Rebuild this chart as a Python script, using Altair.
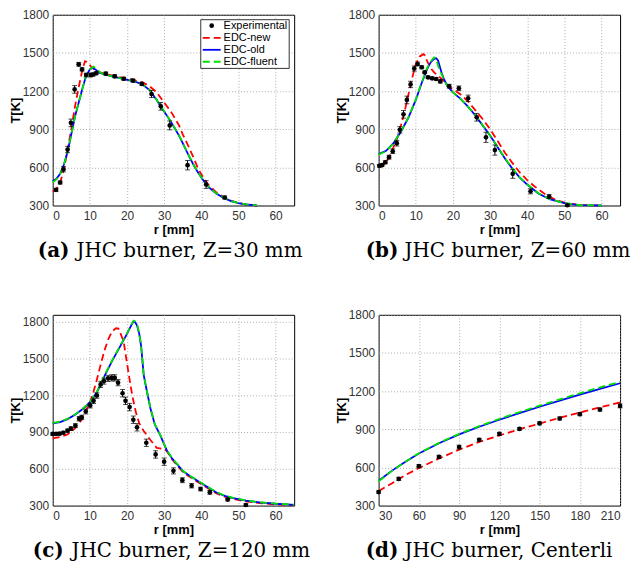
import altair as alt
import pandas as pd

# ---------------- Panel (a): Z=30 mm ----------------
a_exp_r = [0.9, 2.0, 2.9, 4.0, 4.9, 5.9, 7.0, 7.9, 9.0, 10.2, 10.9, 11.7, 14.3, 16.7, 19.1, 21.6, 24.0, 26.6, 29.1, 31.5, 36.3, 41.3, 46.3]
a_exp_T = [423, 481, 585, 740, 950, 1213, 1410, 1370, 1326, 1326, 1330, 1340, 1337, 1316, 1297, 1282, 1256, 1177, 1080, 930, 617, 465, 363]
a_exp_e = [12, 12, 20, 25, 30, 30, 15, 12, 15, 15, 12, 12, 12, 12, 12, 12, 12, 28, 30, 35, 37, 30, 12]
a_new_r = [0, 1, 2, 3, 4, 5, 6, 7, 8, 8.7, 9.5, 10.5, 12, 14, 17, 20, 22, 24, 26, 28, 29, 30, 31, 32, 33, 34, 35, 36, 37, 38, 39, 40, 41, 42, 44, 46, 48, 50, 52, 55]
a_new_T = [410, 430, 480, 580, 740, 900, 1080, 1230, 1370, 1435, 1425, 1385, 1355, 1335, 1315, 1298, 1285, 1270, 1240, 1190, 1150, 1110, 1070, 1030, 980, 930, 860, 800, 735, 670, 600, 545, 500, 460, 405, 365, 338, 320, 308, 300]
a_old_r = [0, 1, 2, 3, 4, 5, 6, 7, 8, 9, 10, 10.7, 11.5, 12.5, 14, 16, 19, 22, 24, 26, 28, 29, 30, 31, 32, 33, 34, 35, 36, 37, 38, 39, 40, 41, 42, 44, 46, 48, 50, 52, 55]
a_old_T = [490, 510, 550, 620, 720, 860, 1000, 1110, 1220, 1320, 1370, 1383, 1370, 1345, 1330, 1315, 1295, 1275, 1255, 1210, 1130, 1080, 1040, 995, 950, 900, 850, 790, 730, 670, 615, 565, 520, 480, 445, 395, 360, 335, 318, 308, 300]
a_flu_r = [0, 1, 2, 3, 4, 5, 6, 7, 8, 9, 10, 11, 11.8, 12.8, 14, 16, 19, 22, 24, 26, 28, 29, 30, 31, 32, 33, 34, 35, 36, 37, 38, 39, 40, 41, 42, 44, 46, 48, 50, 52, 55]
a_flu_T = [480, 505, 548, 620, 720, 858, 998, 1108, 1218, 1318, 1372, 1392, 1375, 1345, 1330, 1315, 1295, 1275, 1255, 1212, 1132, 1082, 1042, 997, 952, 902, 852, 792, 732, 672, 617, 567, 522, 482, 447, 397, 362, 336, 319, 309, 301]

# ---------------- Panel (b): Z=60 mm ----------------
b_exp_r = [0.2, 0.9, 1.8, 2.8, 3.8, 4.9, 5.7, 6.7, 7.6, 8.6, 9.6, 10.5, 11.6, 12.4, 13.3, 14.4, 15.5, 16.6, 19.0, 21.6, 24.1, 26.4, 28.9, 31.3, 36.1, 40.9, 45.9, 50.8]
b_exp_T = [612, 617, 640, 680, 727, 790, 895, 1017, 1130, 1252, 1377, 1413, 1387, 1347, 1308, 1300, 1295, 1276, 1238, 1222, 1143, 994, 836, 736, 549, 412, 371, 302]
b_exp_e = [10, 10, 12, 15, 18, 22, 25, 30, 30, 25, 20, 15, 12, 10, 10, 10, 10, 12, 15, 18, 25, 30, 40, 40, 35, 20, 15, 10]
b_new_r = [0, 1, 2, 3, 4, 5, 6, 7, 8, 9, 10, 11, 12, 12.5, 13, 14, 15, 16, 17, 18, 19, 20, 22, 24, 26, 28, 30, 32, 34, 36, 38, 40, 42, 45, 48, 51, 55, 60]
b_new_T = [605, 610, 640, 690, 760, 830, 930, 1040, 1170, 1300, 1410, 1470, 1490, 1480, 1440, 1380, 1345, 1320, 1295, 1265, 1235, 1215, 1175, 1120, 1050, 980, 900, 810, 715, 635, 560, 500, 450, 385, 340, 315, 303, 300]
b_old_r = [0, 2, 4, 6, 8, 10, 11.5, 13, 14, 14.8, 15.5, 16, 16.5, 17, 17.5, 18.5, 20, 22, 24, 26, 28, 30, 32, 34, 36, 38, 40, 43, 46, 50, 54, 60]
b_old_T = [705, 730, 790, 880, 990, 1130, 1255, 1370, 1425, 1450, 1458, 1440, 1390, 1340, 1300, 1240, 1190, 1140, 1080, 1010, 930, 850, 760, 670, 590, 520, 465, 395, 350, 318, 303, 300]
b_flu_r = [0, 2, 4, 6, 8, 10, 11.5, 13, 14, 14.9, 15.3, 15.8, 16.3, 17, 17.5, 18.5, 20, 22, 24, 26, 28, 30, 32, 34, 36, 38, 40, 43, 46, 50, 54, 60]
b_flu_T = [700, 727, 788, 880, 992, 1133, 1260, 1378, 1432, 1465, 1458, 1420, 1370, 1330, 1295, 1238, 1190, 1140, 1080, 1012, 932, 852, 762, 672, 592, 522, 467, 397, 352, 319, 304, 300]

# ---------------- Panel (c): Z=120 mm ----------------
c_exp_r = [0, 0.9, 1.8, 2.85, 4.0, 4.9, 6.1, 7.1, 7.8, 8.9, 10.1, 11.0, 11.9, 12.9, 13.8, 14.9, 15.9, 16.7, 17.6, 18.8, 19.6, 20.7, 21.7, 22.7, 25.2, 27.7, 30.0, 32.5, 34.9, 37.4, 39.8, 42.3, 47.1, 52.0]
c_exp_T = [884, 884, 886, 894, 911, 927, 952, 1008, 1019, 1067, 1116, 1154, 1197, 1288, 1315, 1337, 1341, 1341, 1302, 1216, 1154, 1103, 1000, 938, 812, 717, 658, 583, 507, 462, 435, 408, 349, 305]
c_exp_e = [10, 10, 10, 12, 12, 15, 15, 18, 18, 20, 20, 22, 22, 25, 25, 25, 25, 25, 25, 30, 30, 30, 30, 30, 30, 30, 30, 25, 20, 18, 15, 15, 10, 10]
c_new_r = [0, 2, 4, 6, 8, 10, 11, 12, 13, 14, 15, 16, 17, 17.7, 18.3, 19.1, 19.8, 20.5, 21.4, 22.3, 23.3, 24.5, 26.3, 28, 30, 30.7, 32, 33.4, 35.2, 37.5, 39.7, 42, 44.1, 46.3, 48.6, 52, 55.7, 60, 65]
c_new_T = [848, 858, 880, 930, 1010, 1140, 1230, 1340, 1460, 1570, 1660, 1720, 1745, 1742, 1700, 1636, 1500, 1364, 1200, 1070, 970, 908, 835, 770, 760, 745, 682, 632, 569, 522, 480, 437, 400, 373, 354, 334, 320, 310, 303]
c_old_r = [0, 2, 4, 6, 8, 10, 12, 14, 16, 18, 20, 21, 21.7, 22.2, 22.7, 23.3, 23.8, 24.5, 25.3, 26.3, 27.5, 29, 30.7, 32, 33.4, 35.2, 37.5, 39.7, 42, 44.1, 46.3, 48.6, 52, 55.7, 60, 65]
c_old_T = [970, 980, 1005, 1040, 1085, 1140, 1230, 1360, 1480, 1590, 1700, 1760, 1800, 1795, 1768, 1700, 1600, 1364, 1240, 1094, 960, 870, 750, 690, 640, 577, 530, 488, 445, 407, 380, 361, 340, 326, 315, 306]
c_flu_r = [0, 2, 4, 6, 8, 10, 12, 14, 16, 18, 20, 21, 21.8, 22.3, 22.8, 23.3, 23.8, 24.5, 25.3, 26.3, 27.5, 29, 30.7, 32, 33.4, 35.2, 37.5, 39.7, 42, 44.1, 46.3, 48.6, 52, 55.7, 60, 65]
c_flu_T = [975, 984, 1008, 1043, 1088, 1143, 1234, 1364, 1484, 1594, 1704, 1766, 1808, 1800, 1770, 1702, 1602, 1366, 1242, 1096, 962, 872, 752, 692, 642, 579, 532, 490, 447, 409, 382, 363, 342, 327, 316, 307]

# ---------------- Panel (d): Centerline ----------------
d_exp_r = [30, 45, 60, 75, 90, 105, 120, 135, 150, 165, 180, 195, 210]
d_exp_T = [406, 510, 610, 683, 760, 817, 864, 903, 947, 985, 1019, 1055, 1084]
d_exp_e = [10, 12, 12, 12, 15, 12, 12, 10, 12, 12, 12, 12, 15]
d_line_r = [30, 40, 50, 60, 75, 90, 105, 120, 135, 150, 165, 180, 195, 210]
d_new_T = [415, 475, 540, 595, 670, 740, 800, 852, 900, 945, 990, 1032, 1072, 1112]
d_old_T = [495, 575, 645, 710, 790, 860, 920, 975, 1027, 1077, 1125, 1172, 1218, 1262]
d_flu_T = [492, 573, 645, 712, 793, 864, 925, 982, 1035, 1086, 1135, 1183, 1230, 1272]

series_names = ["Experimental", "EDC-new", "EDC-old", "EDC-fluent"]
y_ticks = [300, 600, 900, 1200, 1500, 1800]

SANS = "Liberation Sans"
SERIF = "DejaVu Serif"
W, H = 243, 192
RED, BLUE, GREEN = "#ff0000", "#0000ff", "#00e000"
DASH = [7, 4]
CAP_FS = 20
CAP_GAP = 39
CAP_Y = 238


def one_row():
    return pd.DataFrame({"k": [0]})


def panel(exp_r, exp_T, exp_e, new_r, new_T, old_r, old_T, flu_r, flu_T,
          xdom, xticks, ydom, tag, cap, cap_dx, cap_limit=0, legend=False):
    xs = alt.Scale(domain=xdom, nice=False, zero=False)
    ys = alt.Scale(domain=ydom, nice=False, zero=False)
    xax = alt.Axis(values=xticks, title="r [mm]", format="d")
    yax = alt.Axis(values=y_ticks, title="T[K]", format="d")

    def line(r, T, color, dash=None):
        df = pd.DataFrame({"r": r, "T": T})
        kw = dict(color=color, strokeWidth=1.8)
        if dash:
            kw["strokeDash"] = dash
        return alt.Chart(df).mark_line(**kw).encode(
            x=alt.X("r:Q", scale=xs, axis=xax),
            y=alt.Y("T:Q", scale=ys, axis=yax),
        )

    exp_df = pd.DataFrame({
        "r": exp_r, "T": exp_T,
        "lo": [t - e for t, e in zip(exp_T, exp_e)],
        "hi": [t + e for t, e in zip(exp_T, exp_e)],
    })
    err = alt.Chart(exp_df).mark_errorbar(ticks=True, color="black", thickness=1).encode(
        x=alt.X("r:Q", scale=xs, axis=xax),
        y=alt.Y("lo:Q", scale=ys, axis=yax),
        y2="hi:Q",
    )
    pts = alt.Chart(exp_df).mark_point(filled=True, color="black", size=22, opacity=1).encode(
        x=alt.X("r:Q", scale=xs, axis=xax),
        y=alt.Y("T:Q", scale=ys, axis=yax),
    )
    layers = [
        line(new_r, new_T, RED, DASH),
        line(old_r, old_T, BLUE),
        line(flu_r, flu_T, GREEN, DASH),
        err, pts,
    ]
    # caption under the panel
    layers.append(alt.Chart(one_row()).mark_text(
        text=tag, font=SERIF, fontSize=CAP_FS, fontWeight="bold", align="left",
        baseline="middle", color="black").encode(x=alt.value(cap_dx), y=alt.value(CAP_Y)))
    tkw = dict(text=cap, font=SERIF, fontSize=CAP_FS, align="left", baseline="middle", color="black")
    if cap_limit:
        tkw["limit"] = cap_limit
        tkw["ellipsis"] = " "
    layers.append(alt.Chart(one_row()).mark_text(**tkw).encode(
        x=alt.value(cap_dx + CAP_GAP), y=alt.value(CAP_Y)))

    if legend:
        lx0, lx1 = 149, 238
        layers.append(alt.Chart(one_row()).mark_rect(fill="white", stroke="#333", strokeWidth=1).encode(
            x=alt.value(lx0), x2=alt.value(lx1), y=alt.value(5), y2=alt.value(54)))
        rows = [11, 23.3, 35.3, 47.3]
        layers.append(alt.Chart(one_row()).mark_point(filled=True, color="black", size=22, opacity=1).encode(
            x=alt.value(160), y=alt.value(rows[0])))
        for yy, col, dash in [(rows[1], RED, DASH), (rows[2], BLUE, None), (rows[3], GREEN, DASH)]:
            kw = dict(color=col, strokeWidth=1.8)
            if dash:
                kw["strokeDash"] = dash
            layers.append(alt.Chart(one_row()).mark_rule(**kw).encode(
                x=alt.value(151), x2=alt.value(169), y=alt.value(yy)))
        for yy, name in zip(rows, series_names):
            layers.append(alt.Chart(one_row()).mark_text(
                text=name, font=SANS, fontSize=11, align="left", baseline="middle", color="black").encode(
                x=alt.value(172), y=alt.value(yy)))

    return alt.layer(*layers).properties(width=W, height=H)


pa = panel(a_exp_r, a_exp_T, a_exp_e, a_new_r, a_new_T, a_old_r, a_old_T, a_flu_r, a_flu_T,
           [0, 65], [0, 10, 20, 30, 40, 50, 60], [300, 1800], "(a)", "JHC burner, Z=30 mm", -15, legend=True)
pb = panel(b_exp_r, b_exp_T, b_exp_e, b_new_r, b_new_T, b_old_r, b_old_T, b_flu_r, b_flu_T,
           [0, 65], [0, 10, 20, 30, 40, 50, 60], [300, 1800], "(b)", "JHC burner, Z=60 mm", -13, cap_limit=228)
pc = panel(c_exp_r, c_exp_T, c_exp_e, c_new_r, c_new_T, c_old_r, c_old_T, c_flu_r, c_flu_T,
           [0, 65], [0, 10, 20, 30, 40, 50, 60], [300, 1855], "(c)", "JHC burner, Z=120 mm", -20)
pd_ = panel(d_exp_r, d_exp_T, d_exp_e, d_line_r, d_new_T, d_line_r, d_old_T, d_line_r, d_flu_T,
            [30, 210], [30, 60, 90, 120, 150, 180, 210], [300, 1800], "(d)", "JHC burner, Centerline", -13, cap_limit=228)

chart = alt.concat(pa, pb, pc, pd_, columns=2, spacing={"row": 110, "column": 85},
                   bounds="flush").properties(
    padding={"left": 0, "top": -2, "right": 0, "bottom": 0}
).configure_view(
    stroke="black", strokeWidth=1
).configure_axis(
    labelFont=SANS, labelFontSize=12, labelColor="#333",
    titleFont=SANS, titleFontSize=13, titleFontWeight="bold", titleColor="black",
    grid=True, gridColor="#999", gridDash=[1, 2], gridWidth=0.8, gridOpacity=1,
    domain=False, ticks=False, labelPadding=4,
).configure_axisY(titlePadding=0).configure_axisX(titlePadding=2, labelPadding=5)

chart.save("out.html", embed_options={"renderer": "svg", "actions": False})
